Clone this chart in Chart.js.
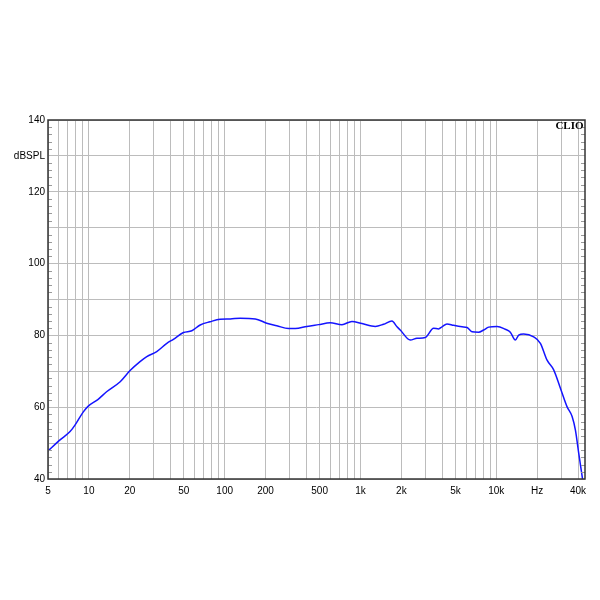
<!DOCTYPE html>
<html>
<head>
<meta charset="utf-8">
<script src="https://cdn.jsdelivr.net/npm/chart.js@4/dist/chart.umd.min.js"></script>
<style>
html,body{margin:0;padding:0;background:#fff;}
#c{display:block;}
</style>
</head>
<body>
<canvas id="c" width="600" height="600"></canvas>
<script>
const freqHz = [5, 6.13, 7.27, 7.9, 9.1, 9.9, 11.7, 13.5, 17.0, 20.1, 23.8, 26.7, 31.6, 37.5, 41.9, 49.7, 57.3, 66, 78, 92.6, 110, 130, 168, 204, 242, 295, 331, 403, 491, 599, 730, 865, 1025, 1285, 1479, 1705, 1857, 1963, 2327, 2606, 3000, 3455, 3758, 3983, 4335, 4850, 5593, 6088, 6628, 7412, 8070, 8785, 10130, 11660, 12690, 13820, 14620, 15900, 18850, 21120, 23660, 26460, 29650, 33220, 36170, 38250, 40450, 43280];
const splDb = [47.8, 50.9, 53.2, 55.0, 58.7, 60.3, 62.2, 64.3, 67.1, 70.2, 72.7, 74.1, 75.5, 77.8, 78.9, 80.8, 81.3, 82.9, 83.8, 84.5, 84.6, 84.8, 84.6, 83.4, 82.7, 81.9, 81.9, 82.5, 83.0, 83.5, 83.0, 83.9, 83.3, 82.5, 83.1, 84.0, 82.4, 81.5, 78.7, 79.2, 79.4, 82.0, 81.8, 82.4, 83.2, 82.8, 82.4, 82.2, 81.0, 80.9, 81.5, 82.3, 82.5, 81.7, 80.9, 78.7, 80.1, 80.4, 79.6, 77.8, 73.1, 70.4, 65.3, 60.1, 57.4, 53.6, 47.2, 39.7];

const xGridValues = [5,6,7,8,9,10,20,30,40,50,60,70,80,90,100,200,300,400,500,600,700,800,900,1000,2000,3000,4000,5000,6000,7000,8000,9000,10000,20000,30000,40000];
const xLabelValues = [5, 10, 20, 50, 100, 200, 500, 1000, 2000, 5000, 10000, 20000, 40000];
const xLabelTexts = ['5', '10', '20', '50', '100', '200', '500', '1k', '2k', '5k', '10k', 'Hz', '40k'];
const yLabelValues = [140, 130, 120, 100, 80, 60, 40];
const yLabelTexts = ['140', 'dBSPL', '120', '100', '80', '60', '40'];
const yMinorStep = 2;

const FONT = {family: '"Liberation Sans", Arial, sans-serif', size: 10};

const framePlugin = {
  id: 'frame',
  afterDraw(chart) {
    const {ctx, chartArea: a, scales} = chart;
    const y = scales.y;
    ctx.save();
    ctx.strokeStyle = '#9a9a9a';
    ctx.lineWidth = 1;
    ctx.beginPath();
    for (let v = y.min; v <= y.max; v += yMinorStep) {
      if (v % 10 === 0) continue;
      const py = Math.round(y.getPixelForValue(v)) + 0.5;
      ctx.moveTo(a.left, py); ctx.lineTo(a.left + 4, py);
      ctx.moveTo(a.right, py); ctx.lineTo(a.right - 4, py);
    }
    ctx.stroke();
    ctx.strokeStyle = '#333';
    ctx.lineWidth = 1.5;
    ctx.strokeRect(a.left, a.top, a.right - a.left, a.bottom - a.top);
    ctx.fillStyle = '#000';
    ctx.font = 'bold 11px "Liberation Serif", "Times New Roman", serif';
    ctx.textAlign = 'right';
    ctx.textBaseline = 'alphabetic';
    ctx.fillText('CLIO', a.right - 1.5, a.top + 8.5);
    ctx.restore();
  }
};

new Chart(document.getElementById('c'), {
  type: 'line',
  data: {
    datasets: [{
      data: freqHz.map((f, i) => ({x: f, y: splDb[i]})),
      borderColor: 'rgb(20,20,255)',
      borderWidth: 1.5,
      pointRadius: 0,
      cubicInterpolationMode: 'monotone',
      fill: false
    }]
  },
  options: {
    responsive: false,
    animation: false,
    devicePixelRatio: 1,
    layout: {padding: {top: 120, right: 15, left: 0, bottom: 0}},
    plugins: {legend: {display: false}, tooltip: {enabled: false}},
    scales: {
      x: {
        type: 'logarithmic',
        min: 5,
        max: 45000,
        afterBuildTicks(scale) {
          scale.ticks = xGridValues.map(v => ({value: v}));
        },
        afterFit(scale) { scale.height = 121; },
        grid: {color: '#bcbcbc', lineWidth: 1, drawTicks: false},
        border: {display: false},
        ticks: {
          autoSkip: false,
          maxRotation: 0,
          padding: 6,
          color: '#000',
          font: FONT,
          callback(v) {
            const i = xLabelValues.indexOf(v);
            return i >= 0 ? xLabelTexts[i] : '';
          }
        }
      },
      y: {
        type: 'linear',
        min: 40,
        max: 140,
        afterFit(scale) { scale.width = 48; },
        grid: {color: '#bcbcbc', lineWidth: 1, drawTicks: false},
        border: {display: false},
        ticks: {
          stepSize: 10,
          padding: 3,
          color: '#000',
          font: FONT,
          callback(v) {
            const i = yLabelValues.indexOf(v);
            return i >= 0 ? yLabelTexts[i] : '';
          }
        }
      }
    }
  },
  plugins: [framePlugin]
});
</script>
</body>
</html>
